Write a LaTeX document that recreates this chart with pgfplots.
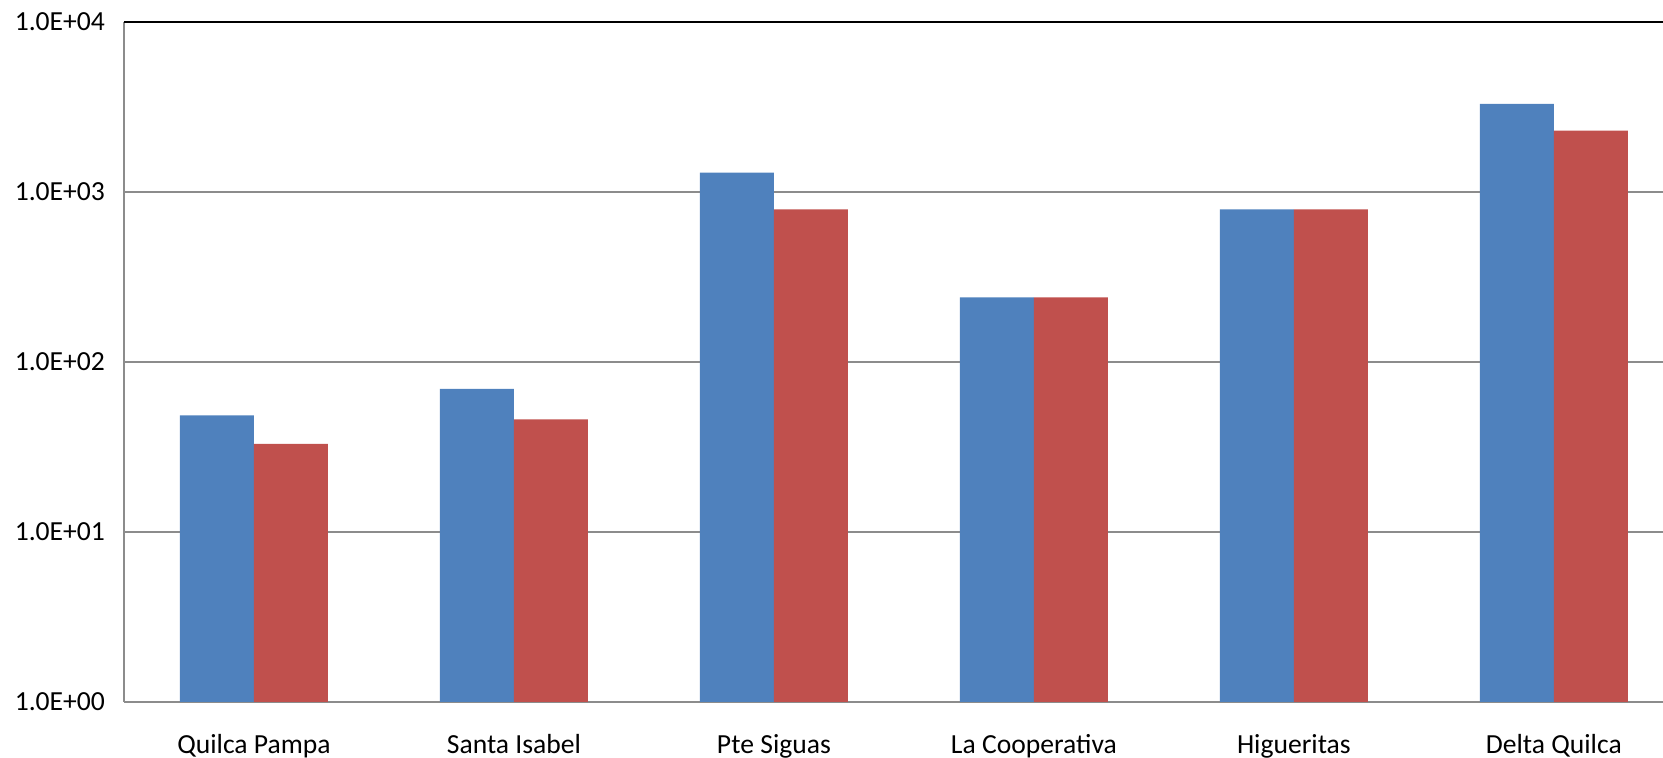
\documentclass[border=0pt]{standalone}
\usepackage{pgfplots}
\pgfplotsset{compat=1.18}
\usepackage{fontspec}
\setmainfont{Carlito}
\definecolor{xlblue}{HTML}{4F81BD}
\definecolor{xlred}{HTML}{C0504D}
\definecolor{xlgrid}{HTML}{8C8C8C}

\begin{document}
\begin{tikzpicture}
\path[use as bounding box] (-62pt,-28pt) rectangle (769.5pt,351pt);
\begin{axis}[
  at={(0,0)}, anchor=south west,
  scale only axis, width=769.5pt, height=340pt,
  ymode=log, log basis y=10, ymin=1, ymax=10000,
  xmin=-0.5, xmax=5.42,
  ybar=0pt, bar width=37pt,
  xtick={0,1,2,3,4,5},
  xticklabels={Quilca Pampa, Santa Isabel, Pte Siguas, La Cooperativa, Higueritas, Delta Quilca},
  ytick={1,10,100,1000},
  yticklabels={1.0E+00,1.0E+01,1.0E+02,1.0E+03},
  extra y ticks={10000}, extra y tick labels={1.0E+04},
  extra y tick style={grid style={black, line width=1.2pt}},
  ymajorgrids, grid style={xlgrid, line width=0.8pt},
  major tick length=0pt, minor tick length=0pt, minor ytick={},
  axis x line*=bottom, axis y line*=left,
  axis line style={xlgrid, line width=1pt, -},
  font=\fontsize{13.8}{16}\selectfont,
  xticklabel style={yshift=-12.5pt},
  yticklabel style={xshift=-6pt},
  clip=false,
]
\addplot[fill=xlblue, draw=none] coordinates {(0,48.5) (1,69.5) (2,1300) (3,240) (4,790) (5,3300)};
\addplot[fill=xlred, draw=none] coordinates {(0,33) (1,46) (2,790) (3,240) (4,790) (5,2300)};
\end{axis}
\end{tikzpicture}
\end{document}
